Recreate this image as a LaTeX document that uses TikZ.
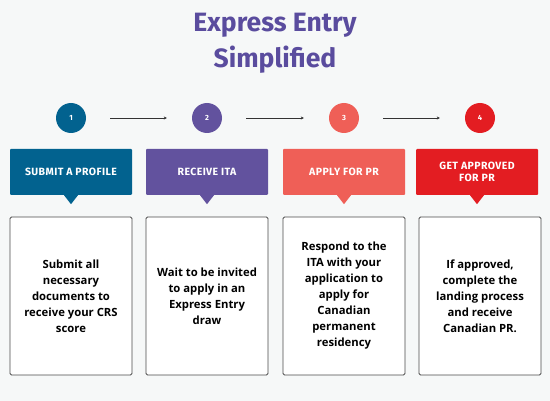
\documentclass[tikz,border=0pt]{standalone}
\usepackage{fontspec}
\setmainfont{Fira Sans}
\newfontfamily\headfont[LetterSpace=4]{Fira Sans}
\newfontfamily\bodyfont{Open Sans}
\usetikzlibrary{arrows.meta}
\definecolor{bg}{HTML}{F6F8F8}
\definecolor{titlec}{HTML}{5A4C9E}
\definecolor{cone}{HTML}{02628F}
\definecolor{ctwo}{HTML}{62529E}
\definecolor{cthree}{HTML}{EF5F57}
\definecolor{cfour}{HTML}{E31D22}
\definecolor{frame}{HTML}{4A4A4A}
\tikzset{
  numc/.style={circle, minimum size=30pt, inner sep=0pt, text=white, font=\bfseries\fontsize{7.5}{8}\selectfont},
  head/.style={rectangle, rounded corners=1pt, minimum width=122pt, minimum height=46pt, inner sep=2pt, text=white, align=center, font=\headfont\bfseries\fontsize{10.5}{12.5}\selectfont},
  card/.style={rectangle, draw=frame, line width=0.9pt, rounded corners=1.5pt, fill=white, minimum width=122pt, minimum height=158pt, align=center, font=\bodyfont\bfseries\fontsize{11.3}{16}\selectfont},
  link/.style={draw=black!80, line width=0.6pt, -{Stealth[length=3pt,width=3pt]}, shorten <=24pt, shorten >=25pt},
}
\begin{document}
\begin{tikzpicture}[x=1pt,y=-1pt]
\fill[bg] (0,0) rectangle (550,401);
\node[text=titlec, font=\bfseries\fontsize{26.5}{36}\selectfont, align=center] (title) at (275,43) {Express Entry\\Simplified};
% circles
\node[numc, fill=cone] (n1) at (71,118) {1};
\node[numc, fill=ctwo] (n2) at (207,118) {2};
\node[numc, fill=cthree] (n3) at (344,118) {3};
\node[numc, fill=cfour] (n4) at (480,118) {4};
\draw[link] (n1) -- (n2);
\draw[link] (n2) -- (n3);
\draw[link] (n3) -- (n4);
% headers
\node[head, fill=cone] (h1) at (71,172) {SUBMIT A PROFILE};
\node[head, fill=ctwo] (h2) at (207,172) {RECEIVE ITA};
\node[head, fill=cthree] (h3) at (344,172) {APPLY FOR PR};
\node[head, fill=cfour] (h4) at (477,172) {GET APPROVED\\FOR PR};
\foreach \h/\c in {h1/cone,h2/ctwo,h3/cthree,h4/cfour}{
  \fill[\c] ([xshift=-7pt]\h.south) -- ([yshift=-9pt]\h.south) -- ([xshift=7pt]\h.south) -- cycle;
}
% cards
\node[card] (b1) at (71,296) {Submit all\\necessary\\documents to\\receive your CRS\\score};
\node[card] (b2) at (207,296) {Wait to be invited\\to apply in an\\Express Entry\\draw};
\node[card] (b3) at (344,296) {Respond to the\\ITA with your\\application to\\apply for\\Canadian\\permanent\\residency};
\node[card] (b4) at (480,296) {If approved,\\complete the\\landing process\\and receive\\Canadian PR.};
\end{tikzpicture}
\end{document}
